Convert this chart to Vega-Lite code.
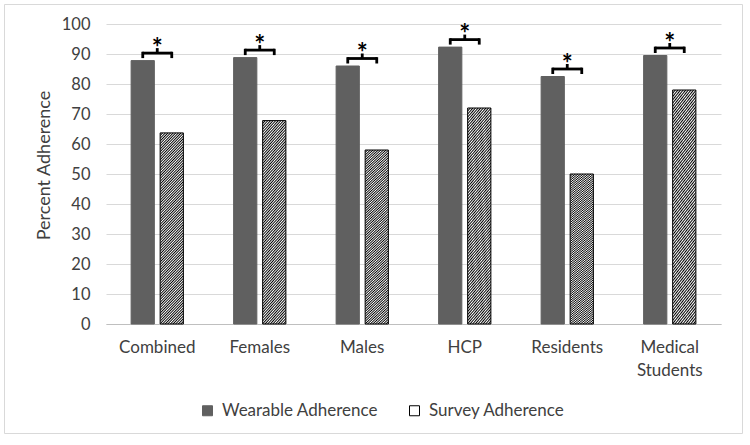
{
  "$schema": "https://vega.github.io/schema/vega-lite/v6.json",
  "width": 738,
  "height": 429,
  "autosize": {"type": "none"},
  "padding": {"left": 4, "top": 4, "right": 8, "bottom": 12},
  "background": "white",
  "config": {"font": "Lato", "view": {"stroke": "#d9d9d9", "strokeWidth": 1}},
  "datasets": {
    "bars": [
      {"group": "Combined", "series": "Wearable Adherence", "percent": 87.8},
      {"group": "Combined", "series": "Survey Adherence", "percent": 63.7},
      {"group": "Females", "series": "Wearable Adherence", "percent": 88.8},
      {"group": "Females", "series": "Survey Adherence", "percent": 67.8},
      {"group": "Males", "series": "Wearable Adherence", "percent": 86},
      {"group": "Males", "series": "Survey Adherence", "percent": 58},
      {"group": "HCP", "series": "Wearable Adherence", "percent": 92.3},
      {"group": "HCP", "series": "Survey Adherence", "percent": 72},
      {"group": "Residents", "series": "Wearable Adherence", "percent": 82.5},
      {"group": "Residents", "series": "Survey Adherence", "percent": 50},
      {"group": "Medical Students", "series": "Wearable Adherence", "percent": 89.5},
      {"group": "Medical Students", "series": "Survey Adherence", "percent": 78}
    ]
  },
  "layer": [
    {
      "data": {"name": "bars"},
      "mark": {"type": "bar", "strokeWidth": 1},
      "encoding": {
        "x": {
          "field": "group", "type": "nominal",
          "scale": {"domain": ["Combined", "Females", "Males", "HCP", "Residents", "Medical Students"], "range": [102, 717], "paddingInner": 0.49, "paddingOuter": 0.245},
          "axis": {"title": null, "labelFontSize": 17, "labelColor": "#404040", "labelPadding": 15, "labelLineHeight": 23, "ticks": false, "domainColor": "#bfbfbf", "domainWidth": 1, "offset": -109, "labelAngle": 0, "labelOverlap": false, "grid": false,
                   "labelExpr": "datum.label == 'Medical Students' ? ['Medical', 'Students'] : datum.label"}
        },
        "xOffset": {
          "field": "series", "type": "nominal",
          "scale": {"domain": ["Wearable Adherence", "Survey Adherence"], "paddingInner": 0.2, "paddingOuter": 0}
        },
        "y": {
          "field": "percent", "type": "quantitative",
          "scale": {"domain": [0, 100], "range": [320, 20], "nice": false, "zero": true},
          "axis": {"title": "Percent Adherence", "titleFontSize": 18, "titleFontWeight": "normal", "titleColor": "#404040", "titleX": -62, "titleY": 161, "titleBaseline": "middle", "titleAngle": -90,
                   "values": [0, 10, 20, 30, 40, 50, 60, 70, 80, 90, 100], "labelFontSize": 16.5, "labelColor": "#404040", "labelPadding": 16, "ticks": false, "domain": false, "gridColor": "#d9d9d9", "gridWidth": 1, "offset": -102}
        },
        "fill": {
          "condition": {"test": "datum.series === 'Survey Adherence'", "value": {"gradient": "linear", "x1": 0, "y1": 0, "x2": 0.1385, "y2": 1.108, "stops": [
            {"offset": 0, "color": "#000"}, {"offset": 0.00625, "color": "#fff"},
            {"offset": 0.0125, "color": "#000"}, {"offset": 0.01875, "color": "#fff"},
            {"offset": 0.025, "color": "#000"}, {"offset": 0.03125, "color": "#fff"},
            {"offset": 0.0375, "color": "#000"}, {"offset": 0.04375, "color": "#fff"},
            {"offset": 0.05, "color": "#000"}, {"offset": 0.05625, "color": "#fff"},
            {"offset": 0.0625, "color": "#000"}, {"offset": 0.06875, "color": "#fff"},
            {"offset": 0.075, "color": "#000"}, {"offset": 0.08125, "color": "#fff"},
            {"offset": 0.0875, "color": "#000"}, {"offset": 0.09375, "color": "#fff"},
            {"offset": 0.1, "color": "#000"}, {"offset": 0.10625, "color": "#fff"},
            {"offset": 0.1125, "color": "#000"}, {"offset": 0.11875, "color": "#fff"},
            {"offset": 0.125, "color": "#000"}, {"offset": 0.13125, "color": "#fff"},
            {"offset": 0.1375, "color": "#000"}, {"offset": 0.14375, "color": "#fff"},
            {"offset": 0.15, "color": "#000"}, {"offset": 0.15625, "color": "#fff"},
            {"offset": 0.1625, "color": "#000"}, {"offset": 0.16875, "color": "#fff"},
            {"offset": 0.175, "color": "#000"}, {"offset": 0.18125, "color": "#fff"},
            {"offset": 0.1875, "color": "#000"}, {"offset": 0.19375, "color": "#fff"},
            {"offset": 0.2, "color": "#000"}, {"offset": 0.20625, "color": "#fff"},
            {"offset": 0.2125, "color": "#000"}, {"offset": 0.21875, "color": "#fff"},
            {"offset": 0.225, "color": "#000"}, {"offset": 0.23125, "color": "#fff"},
            {"offset": 0.2375, "color": "#000"}, {"offset": 0.24375, "color": "#fff"},
            {"offset": 0.25, "color": "#000"}, {"offset": 0.25625, "color": "#fff"},
            {"offset": 0.2625, "color": "#000"}, {"offset": 0.26875, "color": "#fff"},
            {"offset": 0.275, "color": "#000"}, {"offset": 0.28125, "color": "#fff"},
            {"offset": 0.2875, "color": "#000"}, {"offset": 0.29375, "color": "#fff"},
            {"offset": 0.3, "color": "#000"}, {"offset": 0.30625, "color": "#fff"},
            {"offset": 0.3125, "color": "#000"}, {"offset": 0.31875, "color": "#fff"},
            {"offset": 0.325, "color": "#000"}, {"offset": 0.33125, "color": "#fff"},
            {"offset": 0.3375, "color": "#000"}, {"offset": 0.34375, "color": "#fff"},
            {"offset": 0.35, "color": "#000"}, {"offset": 0.35625, "color": "#fff"},
            {"offset": 0.3625, "color": "#000"}, {"offset": 0.36875, "color": "#fff"},
            {"offset": 0.375, "color": "#000"}, {"offset": 0.38125, "color": "#fff"},
            {"offset": 0.3875, "color": "#000"}, {"offset": 0.39375, "color": "#fff"},
            {"offset": 0.4, "color": "#000"}, {"offset": 0.40625, "color": "#fff"},
            {"offset": 0.4125, "color": "#000"}, {"offset": 0.41875, "color": "#fff"},
            {"offset": 0.425, "color": "#000"}, {"offset": 0.43125, "color": "#fff"},
            {"offset": 0.4375, "color": "#000"}, {"offset": 0.44375, "color": "#fff"},
            {"offset": 0.45, "color": "#000"}, {"offset": 0.45625, "color": "#fff"},
            {"offset": 0.4625, "color": "#000"}, {"offset": 0.46875, "color": "#fff"},
            {"offset": 0.475, "color": "#000"}, {"offset": 0.48125, "color": "#fff"},
            {"offset": 0.4875, "color": "#000"}, {"offset": 0.49375, "color": "#fff"},
            {"offset": 0.5, "color": "#000"}, {"offset": 0.50625, "color": "#fff"},
            {"offset": 0.5125, "color": "#000"}, {"offset": 0.51875, "color": "#fff"},
            {"offset": 0.525, "color": "#000"}, {"offset": 0.53125, "color": "#fff"},
            {"offset": 0.5375, "color": "#000"}, {"offset": 0.54375, "color": "#fff"},
            {"offset": 0.55, "color": "#000"}, {"offset": 0.55625, "color": "#fff"},
            {"offset": 0.5625, "color": "#000"}, {"offset": 0.56875, "color": "#fff"},
            {"offset": 0.575, "color": "#000"}, {"offset": 0.58125, "color": "#fff"},
            {"offset": 0.5875, "color": "#000"}, {"offset": 0.59375, "color": "#fff"},
            {"offset": 0.6, "color": "#000"}, {"offset": 0.60625, "color": "#fff"},
            {"offset": 0.6125, "color": "#000"}, {"offset": 0.61875, "color": "#fff"},
            {"offset": 0.625, "color": "#000"}, {"offset": 0.63125, "color": "#fff"},
            {"offset": 0.6375, "color": "#000"}, {"offset": 0.64375, "color": "#fff"},
            {"offset": 0.65, "color": "#000"}, {"offset": 0.65625, "color": "#fff"},
            {"offset": 0.6625, "color": "#000"}, {"offset": 0.66875, "color": "#fff"},
            {"offset": 0.675, "color": "#000"}, {"offset": 0.68125, "color": "#fff"},
            {"offset": 0.6875, "color": "#000"}, {"offset": 0.69375, "color": "#fff"},
            {"offset": 0.7, "color": "#000"}, {"offset": 0.70625, "color": "#fff"},
            {"offset": 0.7125, "color": "#000"}, {"offset": 0.71875, "color": "#fff"},
            {"offset": 0.725, "color": "#000"}, {"offset": 0.73125, "color": "#fff"},
            {"offset": 0.7375, "color": "#000"}, {"offset": 0.74375, "color": "#fff"},
            {"offset": 0.75, "color": "#000"}, {"offset": 0.75625, "color": "#fff"},
            {"offset": 0.7625, "color": "#000"}, {"offset": 0.76875, "color": "#fff"},
            {"offset": 0.775, "color": "#000"}, {"offset": 0.78125, "color": "#fff"},
            {"offset": 0.7875, "color": "#000"}, {"offset": 0.79375, "color": "#fff"},
            {"offset": 0.8, "color": "#000"}, {"offset": 0.80625, "color": "#fff"},
            {"offset": 0.8125, "color": "#000"}, {"offset": 0.81875, "color": "#fff"},
            {"offset": 0.825, "color": "#000"}, {"offset": 0.83125, "color": "#fff"},
            {"offset": 0.8375, "color": "#000"}, {"offset": 0.84375, "color": "#fff"},
            {"offset": 0.85, "color": "#000"}, {"offset": 0.85625, "color": "#fff"},
            {"offset": 0.8625, "color": "#000"}, {"offset": 0.86875, "color": "#fff"},
            {"offset": 0.875, "color": "#000"}, {"offset": 0.88125, "color": "#fff"},
            {"offset": 0.8875, "color": "#000"}, {"offset": 0.89375, "color": "#fff"},
            {"offset": 0.9, "color": "#000"}, {"offset": 0.90625, "color": "#fff"},
            {"offset": 0.9125, "color": "#000"}, {"offset": 0.91875, "color": "#fff"},
            {"offset": 0.925, "color": "#000"}, {"offset": 0.93125, "color": "#fff"},
            {"offset": 0.9375, "color": "#000"}, {"offset": 0.94375, "color": "#fff"},
            {"offset": 0.95, "color": "#000"}, {"offset": 0.95625, "color": "#fff"},
            {"offset": 0.9625, "color": "#000"}, {"offset": 0.96875, "color": "#fff"},
            {"offset": 0.975, "color": "#000"}, {"offset": 0.98125, "color": "#fff"},
            {"offset": 0.9875, "color": "#000"}, {"offset": 0.99375, "color": "#fff"},
            {"offset": 1, "color": "#000"}
          ]}},
          "field": "series", "type": "nominal",
          "scale": {"domain": ["Wearable Adherence", "Survey Adherence"], "range": ["#606060", "#ffffff"]},
          "legend": {
            "title": null, "orient": "none", "legendX": 195, "legendY": 398, "direction": "horizontal",
            "symbolType": "square", "symbolSize": 100, "labelFontSize": 17, "labelColor": "#404040",
            "labelOffset": 6, "columnPadding": 28, "padding": 0, "symbolStrokeWidth": 1
          }
        },
        "stroke": {
          "field": "series", "type": "nominal",
          "scale": {"domain": ["Wearable Adherence", "Survey Adherence"], "range": ["#606060", "#000000"]},
          "legend": {
            "title": null, "orient": "none", "legendX": 195, "legendY": 398, "direction": "horizontal",
            "symbolType": "square", "symbolSize": 100, "labelFontSize": 17, "labelColor": "#404040",
            "labelOffset": 6, "columnPadding": 28, "padding": 0, "symbolStrokeWidth": 1
          }
        }
      }
    },
    {
      "data": {"name": "bars"},
      "transform": [{"filter": "datum.series === 'Wearable Adherence'"}],
      "mark": {"type": "tick", "orient": "horizontal", "size": 30, "thickness": 2.8, "color": "#000000", "opacity": 1, "yOffset": -7.5},
      "encoding": {
        "x": {"field": "group", "type": "nominal"},
        "y": {"field": "percent", "type": "quantitative"}
      }
    },
    {
      "data": {"name": "bars"},
      "transform": [{"filter": "datum.series === 'Wearable Adherence'"}],
      "mark": {"type": "rule", "color": "#000000", "strokeWidth": 2.8, "xOffset": -14.5, "yOffset": -8.8, "y2Offset": -2.5},
      "encoding": {
        "x": {"field": "group", "type": "nominal"},
        "y": {"field": "percent", "type": "quantitative"},
        "y2": {"field": "percent"}
      }
    },
    {
      "data": {"name": "bars"},
      "transform": [{"filter": "datum.series === 'Wearable Adherence'"}],
      "mark": {"type": "rule", "color": "#000000", "strokeWidth": 2.8, "xOffset": 14.5, "yOffset": -8.8, "y2Offset": -2.5},
      "encoding": {
        "x": {"field": "group", "type": "nominal"},
        "y": {"field": "percent", "type": "quantitative"},
        "y2": {"field": "percent"}
      }
    },
    {
      "data": {"name": "bars"},
      "transform": [{"filter": "datum.series === 'Wearable Adherence'"}],
      "mark": {"type": "rule", "color": "#000000", "strokeWidth": 2.8, "yOffset": -12.5, "y2Offset": -7},
      "encoding": {
        "x": {"field": "group", "type": "nominal"},
        "y": {"field": "percent", "type": "quantitative"},
        "y2": {"field": "percent"}
      }
    },
    {
      "data": {"name": "bars"},
      "transform": [{"filter": "datum.series === 'Wearable Adherence'"}],
      "mark": {"type": "text", "text": "*", "fontSize": 26, "fontWeight": "bold", "color": "#000000", "baseline": "alphabetic", "yOffset": -4},
      "encoding": {
        "x": {"field": "group", "type": "nominal"},
        "y": {"field": "percent", "type": "quantitative"}
      }
    }
  ]
}
